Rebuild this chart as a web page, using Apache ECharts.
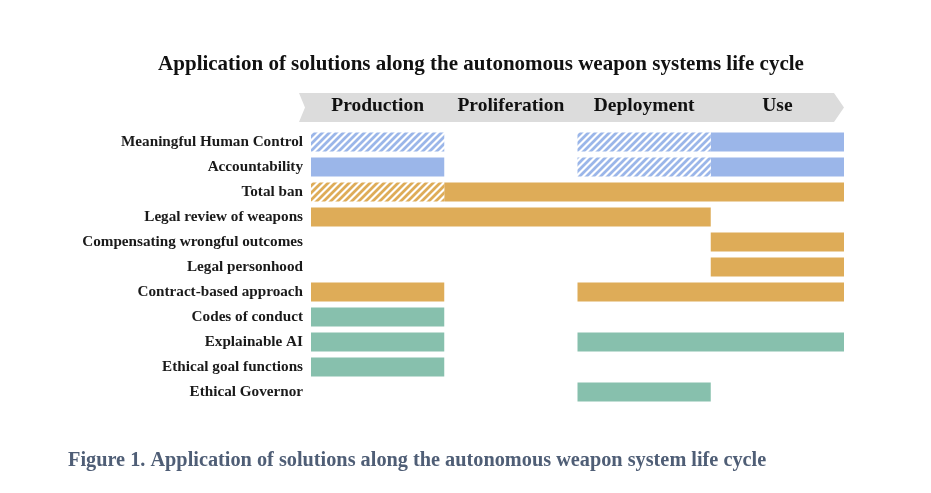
<!DOCTYPE html>
<html><head><meta charset="utf-8">
<script src="https://cdn.jsdelivr.net/npm/echarts@6/dist/echarts.min.js"></script>
<style>html,body{margin:0;padding:0;background:#fff}#c{width:931px;height:493px}</style>
</head><body><div id="c"></div>
<script>
const titleText = "Application of solutions along the autonomous weapon systems life cycle";
const captionText = "Figure 1. Application of solutions along the autonomous weapon system life cycle";
const phases = ["Production", "Proliferation", "Deployment", "Use"];
const solutions = ["Meaningful Human Control","Accountability","Total ban","Legal review of weapons","Compensating wrongful outcomes","Legal personhood","Contract-based approach","Codes of conduct","Explainable AI","Ethical goal functions","Ethical Governor"];
// [solution, start phase index, end phase index]
const blueSolid = [["Meaningful Human Control",3,4],["Accountability",0,1],["Accountability",3,4]];
const blueHatched = [["Meaningful Human Control",0,1],["Meaningful Human Control",2,3],["Accountability",2,3]];
const orangeSolid = [["Total ban",1,4],["Legal review of weapons",0,3],["Compensating wrongful outcomes",3,4],["Legal personhood",3,4],["Contract-based approach",0,1],["Contract-based approach",2,4]];
const orangeHatched = [["Total ban",0,1]];
const greenSolid = [["Codes of conduct",0,1],["Explainable AI",0,1],["Explainable AI",2,4],["Ethical goal functions",0,1],["Ethical Governor",2,3]];

const BLUE = "#9bb6e9", ORANGE = "#deac58", GREEN = "#87c0ad";
const SERIF = "'Liberation Serif','DejaVu Serif',serif";

function hatch(color){
  const s = 7, c = document.createElement('canvas');
  c.width = s; c.height = s;
  const g = c.getContext('2d');
  g.fillStyle = '#fff'; g.fillRect(0,0,s,s);
  g.strokeStyle = color; g.lineWidth = 2.8;
  g.beginPath();
  g.moveTo(-1, s+1); g.lineTo(s+1, -1);
  g.moveTo(-1, 1); g.lineTo(1, -1);
  g.moveTo(s-1, s+1); g.lineTo(s+1, s-1);
  g.stroke();
  return {image: c, repeat: 'repeat'};
}

function segSeries(name, data, fill){
  return {
    type: 'custom', name, xAxisIndex: 0, yAxisIndex: 0,
    encode: {x: [1,2], y: 0},
    data: data.map(d => [solutions.indexOf(d[0]), d[1], d[2]]),
    renderItem: function(params, api){
      const y = api.value(0);
      const p0 = api.coord([api.value(1), y]);
      const p1 = api.coord([api.value(2), y]);
      const h = api.size([0,1])[1] * 0.76;
      return {type:'rect', shape:{x:p0[0], y:p0[1]-h/2, width:p1[0]-p0[0], height:h},
              style:{fill: fill}};
    }
  };
}

const chart = echarts.init(document.getElementById('c'));
chart.setOption({
  animation: false,
  backgroundColor: '#fff',
  title: [{text: titleText, left: 481, top: 54, textAlign: 'center', padding: 0,
    textStyle:{fontFamily: SERIF, fontSize: 21, fontWeight: 'bold', color: '#111'}},
    {text: captionText, left: 68, top: 451, padding: 0,
    textStyle:{fontFamily: SERIF, fontSize: 20.3, fontWeight: 'bold', color: '#4f5e76'}}],
  grid: {left: 311, right: 87, top: 129.5, bottom: 88.5},
  xAxis: [
    {type:'value', min:0, max:4, show:false},
    {type:'category', data: phases, position:'top', boundaryGap:true, z: 5,
     axisLine:{show:false}, axisTick:{show:false}, splitLine:{show:false},
     axisLabel:{interval: 0, margin: 14, fontFamily: SERIF, fontSize: 19.5, fontWeight:'bold', color:'#111'}}
  ],
  yAxis: {type:'category', data: solutions, inverse:true,
    axisLine:{show:false}, axisTick:{show:false}, splitLine:{show:false},
    axisLabel:{interval: 0, margin: 8, fontFamily: SERIF, fontSize: 15.2, fontWeight:'bold', color:'#1a1a1a'}},
  series: [
    segSeries('blueSolid', blueSolid, BLUE),
    segSeries('blueHatched', blueHatched, hatch(BLUE)),
    segSeries('orangeSolid', orangeSolid, ORANGE),
    segSeries('orangeHatched', orangeHatched, hatch(ORANGE)),
    segSeries('greenSolid', greenSolid, GREEN)
  ]
});

// phase band (grey chevron) derived from the axis scale
const a = chart.convertToPixel({xAxisIndex:0}, 0);
const b = chart.convertToPixel({xAxisIndex:0}, 4);
const top0 = chart.convertToPixel({yAxisIndex:0}, 0) - 49;
const bot0 = top0 + 29;
const mid = (top0 + bot0)/2;
chart.setOption({graphic: [{type:'polygon', z: 0, silent:true,
  shape:{points:[[a-12, top0],[b-10, top0],[b, mid],[b-10, bot0],[a-12, bot0],[a-6, mid]]},
  style:{fill:'#dcdcdc'}}]});
</script></body></html>
